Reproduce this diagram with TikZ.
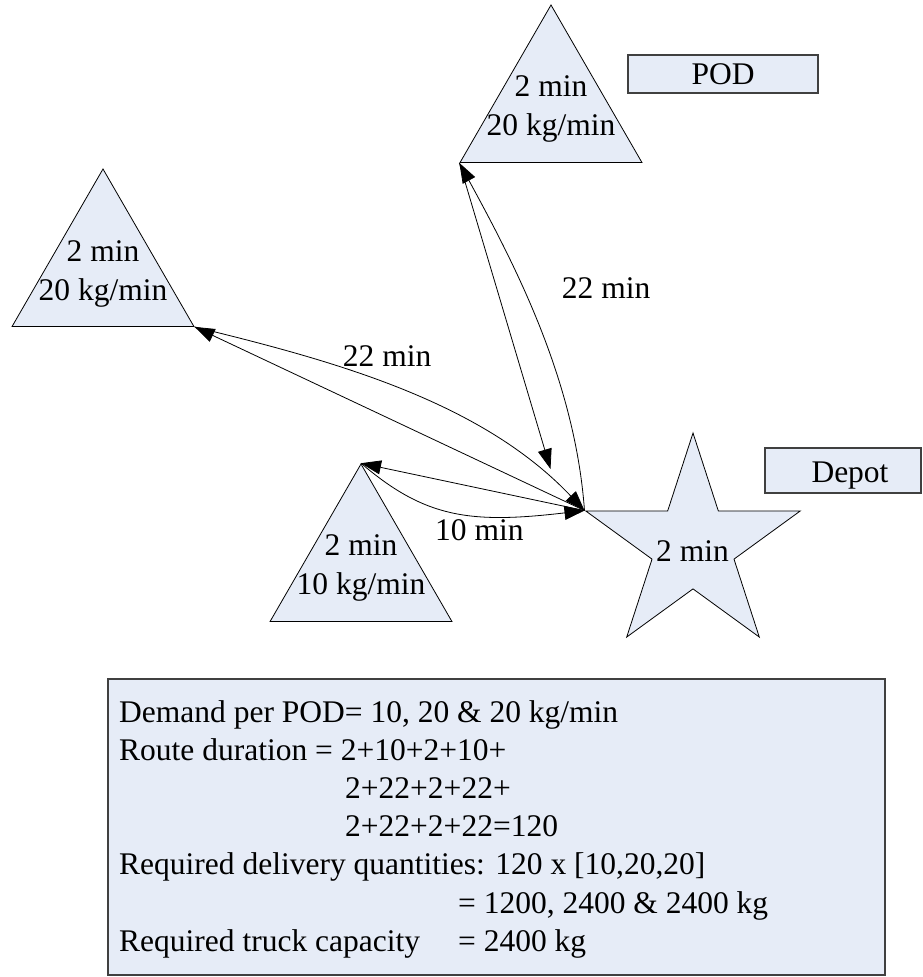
\documentclass[tikz,border=0pt]{standalone}
\usepackage{fontspec}
\setmainfont{Liberation Serif}
\usetikzlibrary{shapes.geometric,arrows.meta}
\definecolor{shapefill}{RGB}{230,236,247}
\begin{document}
\begin{tikzpicture}[x=1pt,y=-1pt,
  every node/.style={font=\fontsize{31.5}{38.2}\selectfont, inner sep=0pt},
  tri/.style={regular polygon, regular polygon sides=3, minimum size=210pt,
    draw=black, fill=shapefill, line width=0.8pt},
  depotstar/.style={star, star points=5, star point ratio=2.618, minimum size=225.6pt,
    draw=black, fill=shapefill, line width=0.8pt},
  tag/.style={rectangle, draw=black!75, fill=shapefill, line width=1.3pt},
  link/.style={line width=0.8pt, -{Triangle[length=20pt,width=14pt]}},
  lbl/.style={anchor=base west},
  inner/.style={align=center}]
\useasboundingbox (0,0) rectangle (922,977);

% points of delivery (triangles) and the depot (star)
\node[tri] (podtop) at (551,110) {};
\node[tri] (podleft) at (103,274) {};
\node[tri] (podlow) at (361,569) {};
\node[depotstar] (depot) at (693,545.8) {};

\node[inner] (podtoptxt) at (551,109) {2 min\\20 kg/min};
\node[inner] (podlefttxt) at (103,274) {2 min\\20 kg/min};
\node[inner] (podlowtxt) at (361,568) {2 min\\10 kg/min};
\node[lbl] (depottxt) at (656,561.7) {2 min};

% legend tags
\node[tag, minimum width=190pt, minimum height=38pt] (podtag) at (723,74) {POD};
\node[tag, minimum width=156pt, minimum height=45pt] (depottag) at (843,470.5) {};
\node[anchor=base] (depottagtxt) at (850,482.7) {Depot};

% travel links
\coordinate (podtopend) at (550.5,469);
\draw[link] (podtop.corner 2) -- (podtopend);
\draw[link] (depot.outer point 2) .. controls (575,380) and (515,265) .. (podtop.corner 2);
\draw[link] (depot.outer point 2) -- (podleft.corner 3);
\draw[link] (podleft.corner 3) .. controls (330,360) and (480,400) .. (depot.outer point 2);
\draw[link] (depot.outer point 2) -- (podlow.corner 1);
\draw[link] (podlow.corner 1) .. controls (425,518) and (470,524) .. (depot.outer point 2);

\node[lbl] (t1) at (561.7,298) {22 min};
\node[lbl] (t2) at (342.7,366) {22 min};
\node[lbl] (t3) at (435,540) {10 min};

% calculation summary
\node[tag, minimum width=777pt, minimum height=296pt] (summary) at (496.5,827) {};
\node[lbl] (s1) at (119,722.7) {Demand per POD= 10, 20 \& 20 kg/min};
\node[lbl] (s2) at (119,760.7) {Route duration = 2+10+2+10+};
\node[lbl] (s3) at (345,798) {2+22+2+22+};
\node[lbl] (s4) at (345,836.7) {2+22+2+22=120};
\node[lbl] (s5) at (119,874) {Required delivery quantities: 120 x [10,20,20]};
\node[lbl] (s6) at (458,913) {= 1200, 2400 \& 2400 kg};
\node[lbl] (s7) at (119,951.7) {Required truck capacity};
\node[lbl] (s8) at (458,951.7) {= 2400 kg};
\end{tikzpicture}
\end{document}
